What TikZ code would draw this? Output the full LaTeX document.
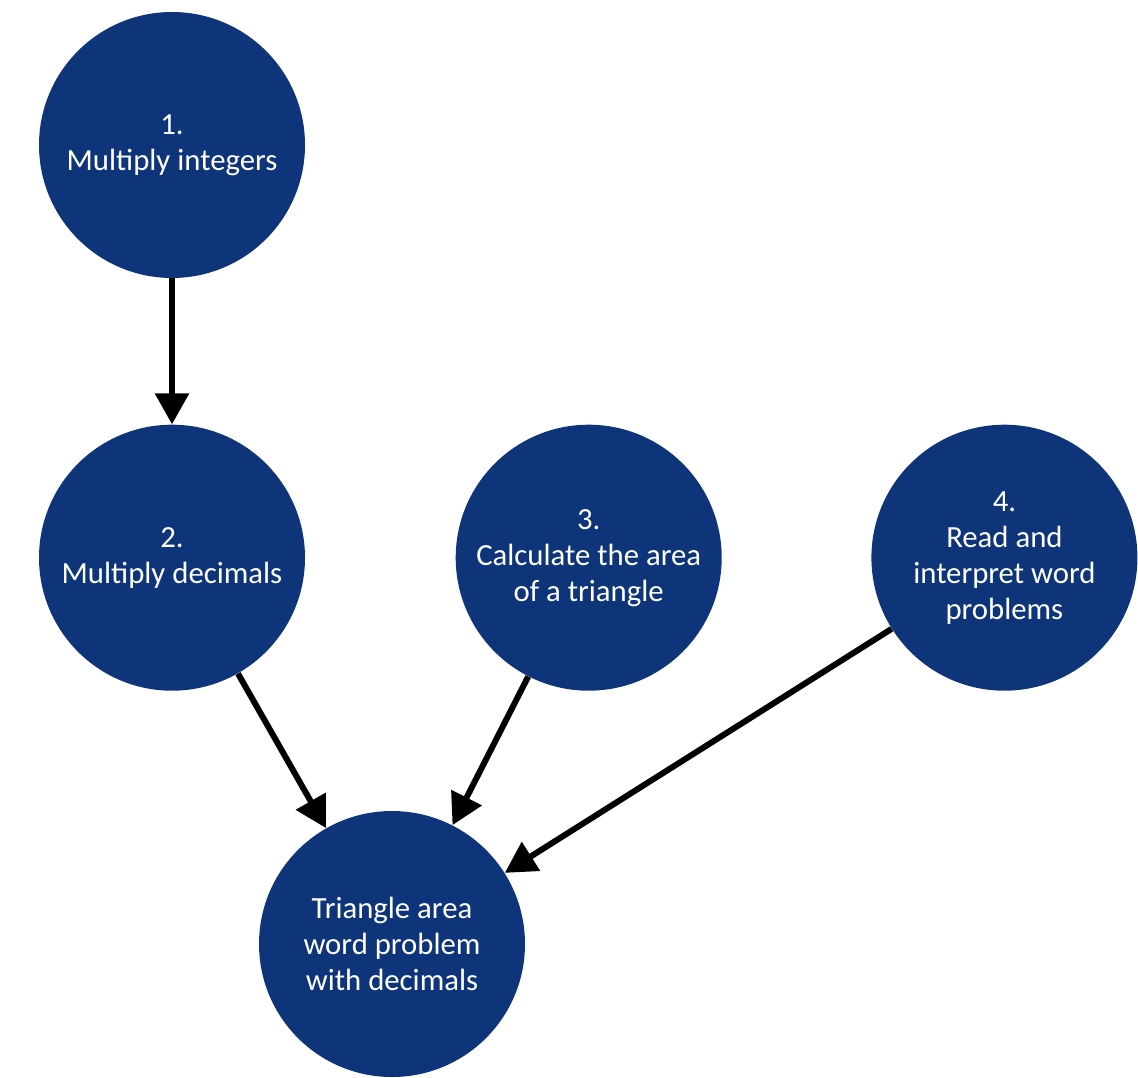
\documentclass[tikz,border=0pt]{standalone}
\usepackage{fontspec}
\setmainfont{Carlito}
\usepackage{tikz}
\usetikzlibrary{
	positioning,
	arrows.meta
}
\definecolor{SkillNavy}{RGB}{14,52,122}

\begin{document}
\begin{tikzpicture}[
	skill/.style={
		circle,
		fill=SkillNavy,
		text=white,
		align=center,
		minimum size=5.32cm,
		inner sep=0pt,
		font=\fontsize{17.5}{20.5}\selectfont
	},
	link/.style={
		-{Triangle[length=0.62cm,width=0.66cm]},
		line width=3.4pt,
		black
	}
	]
	
	\useasboundingbox (0,0) rectangle (22.76,-21.54);
	
	\node[
	skill
	] (Integers) at (3.44,-2.90) {1.\\Multiply integers};
	
	\node[
	skill,
	below=2.92cm of Integers
	] (Decimals) {2.\\Multiply decimals};
	
	\node[
	skill,
	right=3cm of Decimals
	] (Area) {3.\\Calculate the area\\of a triangle};
	
	\node[
	skill,
	right=2.98cm of Area
	] (Reading) {4.\\Read and\\interpret word\\problems};
	
	\node[
	skill
	] (Goal) at (7.84,-18.88) {Triangle area\\word problem\\with decimals};
	
	\draw[link] (Integers) -- (Decimals);
	\draw[link] (Decimals) -- (Goal);
	\draw[link] (Area) -- (Goal);
	\draw[link] (Reading) -- (Goal);
	
\end{tikzpicture}
\end{document}
